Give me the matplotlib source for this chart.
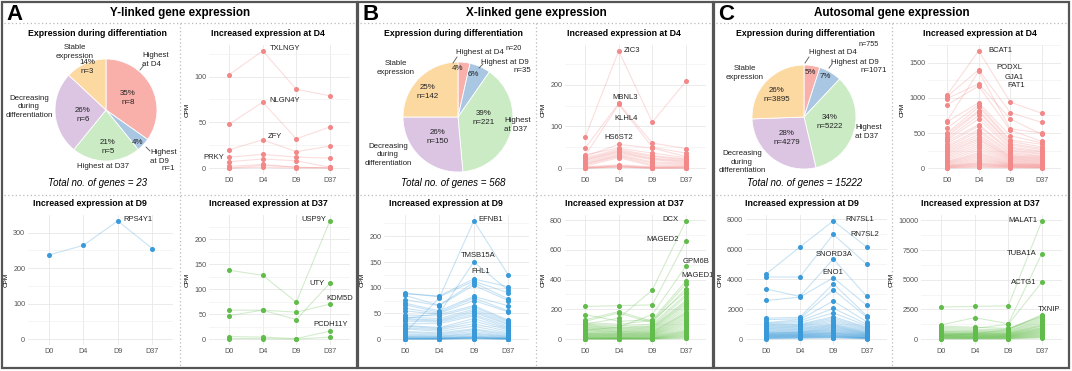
import matplotlib.pyplot as plt
import numpy as np
from matplotlib.patches import Rectangle
from matplotlib.ticker import MultipleLocator

plt.rcParams['font.family'] = ['Liberation Sans', 'DejaVu Sans']

W, H = 1072, 371

# ==================================================
# Data
# ==================================================
days = ["D0", "D4", "D9", "D37"]

# pie order: Highest at D4, Highest at D9, Highest at D37, Decreasing, Stable
y_counts = [8, 1, 5, 6, 3]
y_pct = [35, 4, 21, 26, 14]
x_counts = [20, 35, 221, 150, 142]
x_pct = [4, 6, 39, 26, 25]
auto_counts = [755, 1071, 5222, 4279, 3895]
auto_pct = [5, 7, 34, 28, 26]

# CPM per gene at D0, D4, D9, D37 (first rows are the labelled genes)
y_d4_genes = ["TXLNGY", "NLGN4Y", "ZFY", "PRKY"]
y_d4 = [[102, 128, 86, 79], [48, 72, 32, 45], [20, 31, 18, 24], [12, 15, 12, 11],
        [7, 10, 8, 1], [2, 4, 1, 0], [0, 3, 1, 0], [0, 1, 0, 1]]

y_d9_genes = ["RPS4Y1"]
y_d9 = [[237, 264, 333, 255]]

y_d37_genes = ["USP9Y", "UTY", "KDM5D", "PCDH11Y"]
y_d37 = [[138, 128, 74, 237], [47, 58, 39, 112], [58, 58, 54, 70], [5, 4, 1, 16],
         [1, 1, 0, 4]]

x_d4_genes = ["ZIC3", "MBNL3", "KLHL4", "HS6ST2"]
x_d4 = [[74, 281, 110, 208], [48, 155, 60, 47], [30, 153, 50, 36], [28, 57, 48, 28],
        [32, 48, 36, 25], [25, 45, 30, 22], [22, 42, 28, 20], [20, 40, 24, 18],
        [18, 38, 22, 16], [15, 35, 20, 14], [12, 32, 15, 12], [10, 30, 12, 10],
        [8, 28, 8, 8], [5, 25, 5, 6], [3, 8, 3, 4], [2, 6, 2, 3], [1, 5, 1, 2],
        [0, 4, 0, 1], [0, 3, 0, 0], [0, 2, 0, 0]]

x_d9_genes = ["EFNB1", "TMSB15A", "FHL1"]
x_d9 = [[12, 80, 230, 125], [40, 50, 150, 95], [88, 84, 117, 102], [90, 82, 113, 90],
        [85, 66, 110, 78], [77, 65, 105, 75], [70, 55, 83, 65], [67, 52, 80, 55],
        [60, 50, 75, 53], [55, 48, 65, 37], [47, 45, 62, 35], [43, 40, 58, 33],
        [40, 37, 55, 30], [38, 35, 52, 28], [35, 33, 48, 25], [30, 30, 45, 22],
        [27, 22, 40, 20], [25, 20, 35, 18], [22, 18, 30, 15], [20, 15, 25, 12],
        [15, 12, 20, 10], [13, 10, 18, 8], [10, 8, 15, 6], [8, 6, 12, 5],
        [6, 5, 10, 4], [5, 4, 8, 3], [4, 3, 6, 2], [3, 2, 5, 2], [2, 2, 4, 1],
        [2, 1, 3, 1], [1, 1, 3, 1], [1, 1, 2, 0], [0, 0, 2, 0], [0, 0, 1, 0],
        [0, 0, 1, 0]]

x_d37_genes = ["DCX", "MAGED2", "GPM6B", "MAGED1"]
x_d37 = [[100, 140, 330, 795], [220, 225, 230, 660], [60, 80, 165, 490],
         [165, 120, 130, 390], [130, 185, 120, 370], [120, 175, 110, 340],
         [110, 100, 125, 320], [100, 90, 100, 300], [95, 80, 90, 285],
         [90, 75, 85, 260], [85, 70, 80, 250], [80, 65, 75, 240], [75, 60, 70, 230],
         [70, 55, 65, 215], [65, 50, 60, 200], [60, 48, 55, 185], [55, 45, 50, 175],
         [50, 40, 48, 170], [45, 38, 45, 160], [40, 35, 40, 150], [38, 33, 38, 140],
         [35, 30, 35, 130], [32, 28, 32, 120], [30, 25, 30, 110], [28, 22, 28, 100],
         [25, 20, 25, 90], [22, 18, 22, 80], [20, 15, 20, 70], [18, 12, 18, 60],
         [15, 10, 15, 55], [12, 9, 12, 50], [10, 8, 10, 45], [8, 6, 8, 40],
         [6, 5, 6, 35], [5, 4, 5, 30], [4, 3, 4, 25], [3, 2, 3, 20], [2, 2, 2, 15],
         [1, 1, 1, 10], [0, 0, 0, 5]]

auto_d4_genes = ["BCAT1", "PODXL", "GJA1", "FAT1"]
auto_d4 = [[1040, 1670, 940, 780], [1020, 1400, 790, 650], [670, 1380, 560, 500],
           [990, 1200, 700, 480], [900, 1170, 540, 380], [660, 930, 460, 360],
           [570, 900, 400, 340], [500, 870, 380, 300], [480, 820, 350, 280],
           [450, 800, 330, 260], [420, 750, 300, 240], [400, 700, 280, 230],
           [380, 620, 260, 210], [350, 600, 240, 200], [320, 550, 220, 180],
           [300, 520, 200, 170], [280, 480, 180, 160], [260, 450, 170, 150],
           [240, 420, 160, 140], [220, 400, 150, 130], [200, 370, 140, 120],
           [180, 340, 130, 110], [160, 310, 120, 100], [140, 280, 110, 90],
           [120, 250, 100, 80], [100, 220, 90, 70], [90, 200, 80, 60],
           [80, 180, 70, 55], [70, 160, 60, 50], [60, 140, 55, 45], [50, 120, 50, 40],
           [40, 100, 45, 35], [35, 80, 40, 30], [30, 70, 35, 25], [25, 60, 30, 20],
           [20, 50, 25, 15], [15, 40, 20, 12], [10, 30, 15, 10], [5, 20, 10, 5],
           [2, 10, 5, 2]]

auto_d9_genes = ["RN7SL1", "RN7SL2", "SNORD3A", "ENO1"]
auto_d9 = [[4350, 6150, 7900, 6150], [4150, 4150, 7000, 5000], [3350, 2850, 5350, 2850],
           [2580, 2800, 4100, 2250], [1400, 1450, 3700, 1550], [1300, 1350, 3300, 1450],
           [1100, 1300, 2550, 1150], [1050, 1200, 2050, 1000], [1000, 1100, 1750, 900],
           [950, 1000, 1500, 800], [900, 950, 1400, 750], [850, 900, 1300, 700],
           [800, 850, 1200, 650], [750, 800, 1100, 600], [700, 750, 1000, 550],
           [650, 700, 950, 500], [600, 650, 900, 450], [550, 600, 850, 420],
           [500, 550, 800, 400], [450, 500, 750, 370], [420, 470, 700, 340],
           [400, 450, 650, 320], [370, 420, 600, 300], [340, 400, 550, 280],
           [320, 370, 500, 260], [300, 340, 460, 240], [280, 320, 420, 220],
           [260, 300, 400, 200], [240, 280, 370, 180], [220, 260, 340, 160],
           [200, 240, 300, 140], [180, 220, 280, 120], [160, 200, 250, 100],
           [140, 180, 220, 90], [120, 160, 200, 80], [100, 140, 180, 70],
           [80, 120, 150, 60], [60, 100, 120, 50], [40, 80, 100, 40], [20, 50, 70, 20]]

auto_d37_genes = ["MALAT1", "TUBA1A", "ACTG1", "TXNIP"]
auto_d37 = [[2700, 2750, 2800, 9950], [1200, 1800, 1300, 7200], [1000, 900, 1250, 4800],
            [300, 450, 800, 2050], [1100, 1000, 900, 1950], [900, 800, 850, 1900],
            [800, 700, 800, 1800], [700, 650, 700, 1700], [650, 600, 650, 1600],
            [600, 550, 600, 1500], [550, 500, 550, 1400], [500, 480, 500, 1300],
            [480, 450, 480, 1200], [450, 420, 450, 1150], [420, 400, 420, 1100],
            [400, 380, 400, 1000], [380, 350, 380, 950], [350, 320, 350, 900],
            [320, 300, 320, 850], [300, 280, 300, 800], [280, 260, 280, 750],
            [260, 240, 260, 700], [240, 220, 240, 650], [220, 200, 220, 600],
            [200, 180, 200, 550], [180, 160, 180, 500], [160, 140, 160, 450],
            [140, 120, 140, 400], [120, 100, 120, 350], [100, 90, 100, 300],
            [80, 70, 80, 250], [60, 50, 60, 200], [40, 30, 40, 150], [20, 15, 20, 100]]

# ==================================================
# Styling
# ==================================================
pie_colors = ["#F9AFAA", "#A9C6E3", "#CBEBC4", "#DCC5E3", "#FDD9A2"]
c_d4, c_d9, c_d37 = "#F28888", "#3A9AD9", "#62BC4B"
GRID = "#E8E8E8"
TICK = "#555555"

fig = plt.figure(figsize=(W / 100, H / 100), dpi=100)

ov = fig.add_axes([0, 0, 1, 1])
ov.set_xlim(0, W)
ov.set_ylim(H, 0)
ov.axis("off")
ov.set_zorder(10)


def px_axes(left, top, right, bottom):
    return fig.add_axes([left / W, 1 - bottom / H, (right - left) / W, (bottom - top) / H])


def line_plot(rect, rows, color, genes, labels, yticks, minor):
    ax = px_axes(*rect)
    x = np.arange(len(days))
    for row in rows:
        ax.plot(x, row, color=color, alpha=0.28, lw=0.8, zorder=2)
        ax.plot(x, row, lw=0, marker="o", ms=2.6, color=color, zorder=3)
    ymax = max(max(r) for r in rows)
    ax.set_ylim(-0.05 * ymax, 1.05 * ymax)
    ax.set_xlim(-0.6, 3.6)
    ax.set_xticks(x, days)
    ax.set_yticks(yticks)
    ax.yaxis.set_minor_locator(MultipleLocator(minor))
    ax.grid(True, which="major", color=GRID, lw=0.6)
    ax.grid(True, which="minor", axis="y", color="#F2F2F2", lw=0.5)
    ax.set_axisbelow(True)
    for s in ax.spines.values():
        s.set_visible(False)
    ax.tick_params(which="both", length=0, labelsize=5.2, labelcolor=TICK, pad=2)
    ax.set_ylabel("CPM", fontsize=4.6, labelpad=3)
    for gi, day, dx, dy, ha in labels:
        ax.annotate(genes[gi], (day, rows[gi][day]), xytext=(dx * 0.72, dy * 0.72),
                    textcoords="offset points", ha=ha, va="center", fontsize=5.5,
                    color="#222222")
    return ax


def pie_plot(cx, cy, r, counts):
    ax = px_axes(cx - r, cy - r, cx + r, cy + r)
    ax.pie(counts, colors=pie_colors, startangle=90, counterclock=False,
           wedgeprops=dict(edgecolor="white", linewidth=0.6))
    ax.set_xlim(-1, 1)
    ax.set_ylim(-1, 1)
    return ax


def panel_frame(x0, letter, title, total, sub_x):
    ov.add_patch(Rectangle((x0, 2), 355, 366, fill=False, ec="#555555", lw=1.6))
    dot = dict(color="#BBBBBB", lw=0.9, ls=(0, (1, 2)))
    ov.plot([x0 + 2, x0 + 353], [23, 23], **dot)
    ov.plot([x0 + 2, x0 + 353], [195, 195], **dot)
    ov.plot([x0 + 178, x0 + 178], [23, 366], **dot)
    ov.text(x0 + 4, 15, letter, fontsize=16, fontweight="bold", va="center")
    ov.text(x0 + 178, 13, title, fontsize=8.4, fontweight="bold", ha="center", va="center")
    ov.text(sub_x, 33, "Expression during differentiation", fontsize=6.3,
            fontweight="bold", ha="center", va="center")
    ov.text(x0 + 266, 33, "Increased expression at D4", fontsize=6.3,
            fontweight="bold", ha="center", va="center")
    ov.text(x0 + 88, 203, "Increased expression at D9", fontsize=6.3,
            fontweight="bold", ha="center", va="center")
    ov.text(x0 + 266, 203, "Increased expression at D37", fontsize=6.3,
            fontweight="bold", ha="center", va="center")
    ov.text(sub_x, 183, f"Total no. of genes = {total}", fontsize=7, style="italic",
            ha="center", va="center")


def put(x, y, s, ha="center", size=5.7):
    ov.text(x, y, s, fontsize=size, ha=ha, va="center", color="#222222", linespacing=1.25)


def leader(x1, y1, x2, y2):
    ov.plot([x1, x2], [y1, y2], color="#555555", lw=0.6)


# ==================================================
# Panel A: Y-linked
# ==================================================
panel_frame(2, "A", "Y-linked gene expression", sum(y_counts), 97)
pie_plot(106, 110, 51, y_counts)
put(128, 98, f"{y_pct[0]}%\nn={y_counts[0]}")
put(138, 142, f"{y_pct[1]}%")
put(108, 147, f"{y_pct[2]}%\nn={y_counts[2]}")
put(83, 115, f"{y_pct[3]}%\nn={y_counts[3]}")
put(87, 67, f"{y_pct[4]}%\nn={y_counts[4]}")
put(75, 52, "Stable\nexpression")
put(142, 60, "Highest\nat D4", ha="left")
leader(140, 70, 144, 65)
put(150, 157, "Highest\nat D9", ha="left")
leader(146, 147, 150, 151)
put(162, 169, f"n={y_counts[1]}", ha="left")
put(29, 107, "Decreasing\nduring\ndifferentiation")
put(103, 167, "Highest at D37")

line_plot((209, 45, 350, 174), y_d4, c_d4, y_d4_genes,
          [(0, 1, 7, 2, "left"), (1, 1, 7, 2, "left"), (2, 1, 5, 3, "left"),
           (3, 0, -5, 0, "right")], [0, 50, 100], 25)
line_plot((28, 215, 173, 345), y_d9, c_d9, y_d9_genes,
          [(0, 2, 6, 1, "left")], [0, 100, 200, 300], 50)
line_plot((209, 215, 350, 345), y_d37, c_d37, y_d37_genes,
          [(0, 3, -4, 1, "right"), (1, 3, -5, 0, "right"), (2, 3, 10, 6, "center"),
           (3, 3, 1, 7, "center")], [0, 50, 100, 150, 200], 25)

# ==================================================
# Panel B: X-linked
# ==================================================
panel_frame(358, "B", "X-linked gene expression", sum(x_counts), 453)
pie_plot(458, 117, 55, x_counts)
put(458, 69, f"{x_pct[0]}%")
put(473, 74, f"{x_pct[1]}%")
put(484, 118, f"{x_pct[2]}%\nn={x_counts[2]}")
put(438, 137, f"{x_pct[3]}%\nn={x_counts[3]}")
put(428, 92, f"{x_pct[4]}%\nn={x_counts[4]}")
put(396, 68, "Stable\nexpression")
put(456, 52, "Highest at D4", ha="left")
put(514, 48, f"n={x_counts[0]}", ha="center", size=5.2)
leader(453, 63, 457, 57)
put(481, 63, "Highest at D9", ha="left")
put(531, 71, f"n={x_counts[1]}", ha="right")
leader(479, 68, 483, 64)
put(504, 125, "Highest\nat D37", ha="left")
put(388, 155, "Decreasing\nduring\ndifferentiation")

line_plot((565, 45, 706, 174), x_d4, c_d4, x_d4_genes,
          [(0, 1, 5, 0, "left"), (1, 1, 6, 6, "center"), (2, 1, 7, -14, "center"),
           (3, 1, 0, 7, "center")], [0, 100, 200], 50)
line_plot((384, 215, 529, 345), x_d9, c_d9, x_d9_genes,
          [(0, 2, 5, 1, "left"), (1, 2, 4, 7, "center"), (2, 2, 7, 7, "center")],
          [0, 50, 100, 150, 200], 25)
line_plot((565, 215, 706, 345), x_d37, c_d37, x_d37_genes,
          [(0, 3, -7, 1, "right"), (1, 3, -7, 1, "right"), (2, 3, 10, 5, "center"),
           (3, 3, 12, 6, "center")], [0, 200, 400, 600, 800], 100)

# ==================================================
# Panel C: Autosomal
# ==================================================
panel_frame(714, "C", "Autosomal gene expression", sum(auto_counts), 805)
pie_plot(804, 117, 52, auto_counts)
put(810, 72, f"{auto_pct[0]}%")
put(825, 77, f"{auto_pct[1]}%")
put(830, 122, f"{auto_pct[2]}%\nn={auto_counts[2]}")
put(787, 138, f"{auto_pct[3]}%\nn={auto_counts[3]}")
put(777, 95, f"{auto_pct[4]}%\nn={auto_counts[4]}")
put(745, 73, "Stable\nexpression")
put(809, 53, "Highest at D4", ha="left")
put(869, 45, f"n={auto_counts[0]}", ha="center", size=5.2)
leader(805, 63, 809, 57)
put(831, 63, "Highest at D9", ha="left")
put(887, 71, f"n={auto_counts[1]}", ha="right")
leader(829, 68, 832, 64)
put(855, 132, "Highest\nat D37", ha="left")
put(742, 162, "Decreasing\nduring\ndifferentiation")

line_plot((928, 45, 1061, 174), auto_d4, c_d4, auto_d4_genes,
          [(0, 1, 10, 0, "left"), (1, 1, 18, 2, "left"), (2, 1, 26, -6, "left"),
           (3, 1, 29, -2, "left")], [0, 500, 1000, 1500], 250)
line_plot((746, 215, 887, 345), auto_d9, c_d9, auto_d9_genes,
          [(0, 2, 12, 1, "left"), (1, 2, 17, 0, "left"), (2, 2, 1, 5, "center"),
           (3, 2, 0, 5, "center")], [0, 2000, 4000, 6000, 8000], 1000)
line_plot((921, 215, 1062, 345), auto_d37, c_d37, auto_d37_genes,
          [(0, 3, -4, 0, "right"), (1, 3, -5, 0, "right"), (2, 3, -5, 0, "right"),
           (3, 3, 7, 5, "center")], [0, 2500, 5000, 7500, 10000], 1250)

fig.savefig("out.png", dpi=100)
